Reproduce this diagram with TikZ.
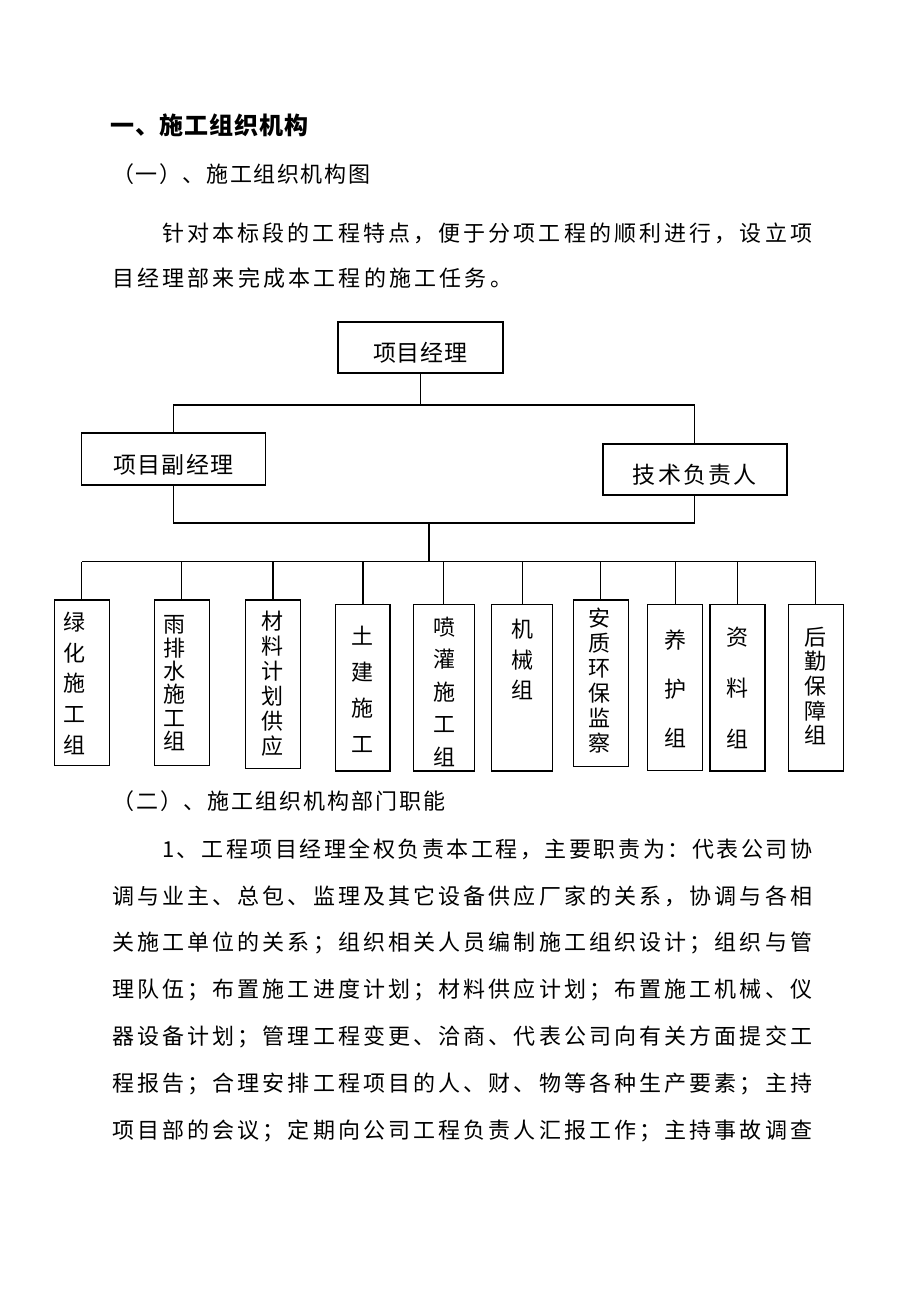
\documentclass[tikz,border=0pt]{standalone}
\usepackage{fontspec}
\setmainfont{Noto Sans CJK SC}
\usepackage{tikz}
\usetikzlibrary{positioning}
% spreads the characters of one line evenly over a given width
\makeatletter
\def\spreadrest#1{\ifx#1\relax\else\hskip 0pt plus 1fil\relax#1\expandafter\spreadrest\fi}
\def\spreadfirst#1{#1\spreadrest}
\newcommand{\spreadline}[2]{\hbox to #1pt{\spreadfirst#2\relax}}
\makeatother
\tikzset{
head/.style={anchor=west, inner sep=0pt, font=\fontsize{24}{28}\selectfont\bfseries}, % section title
txt/.style={anchor=west, inner sep=0pt, font=\fontsize{22}{26}\selectfont}, % one line of body text
post/.style={draw, line width=1.4pt, minimum width=165, minimum height=51, inner sep=0pt, font=\fontsize{23}{27}\selectfont, text height=33pt, text depth=5pt}, % leading posts
grp/.style={draw, line width=1.4pt, minimum width=55, minimum height=166.7, inner sep=0pt}, % work groups
vlab/.style={align=center, inner sep=0pt, font=\fontsize{22}{#1}\selectfont}, % upright text in a group
wire/.style={line width=1.3pt}, % connecting lines
}
\begin{document}
\begin{tikzpicture}[x=1pt, y=-1pt]
    \useasboundingbox (0,0) rectangle (920,1302);

    % text above the chart
    \node[head] (h1) at (110,125) {\spreadline{198}{一、施工组织机构}};
    \node[txt] (h2) at (112,174) {\spreadline{258}{（一）、施工组织机构图}};
    \node[txt] (p1) at (162,233) {\spreadline{650}{针对本标段的工程特点，便于分项工程的顺利进行，设立项}};
    \node[txt] (p2) at (112,278) {\spreadline{400}{目经理部来完成本工程的施工任务。}};

    % leading posts
    \node[post] (pm) at (420.5,347.5) {\spreadline{95}{项目经理}};
    \node[post, minimum width=184, minimum height=52] (vpm) at (173.5,459) {\spreadline{120}{项目副经理}};
    \node[post, minimum width=184] (tech) at (694.8,469.5) {\spreadline{124}{技术负责人}};

    \coordinate (top) at (420.5,405);
    \coordinate (mid) at (429,523);
    \coordinate (bus) at (429,561.7);

    \draw[wire] (pm.south) -- (top);
    \draw[wire] (vpm.north) |- (top) -| (tech.north);
    \draw[wire] (vpm.south) |- (mid) -| (tech.south);
    \draw[wire] (mid) -- (bus);

    % work groups
    \node[grp, minimum height=165.7] (g1) at (81.8,682.9) {};
    \node[grp, minimum height=165.7] (g2) at (181.8,682.9) {};
    \node[grp, minimum width=54.6, minimum height=168.3] (g3) at (273,684.2) {};
    \node[grp, minimum width=54.3] (g4) at (362.9,687.7) {};
    \node[grp, minimum width=61] (g5) at (443.8,687.7) {};
    \node[grp, minimum width=61] (g6) at (522.2,687.7) {};
    \node[grp] (g7) at (600.8,683.3) {};
    \node[grp, minimum height=166.4] (g8) at (675.2,687.5) {};
    \node[grp] (g9) at (737.5,687.7) {};
    \node[grp] (g10) at (815.8,687.7) {};

    \node[vlab=30.8] (t1) at (74,683.3) {绿\\化\\施\\工\\组};
    \node[vlab=23.3] (t2) at (174,683.3) {雨\\排\\水\\施\\工\\组};
    \node[vlab=25] (t3) at (272.5,684) {材\\料\\计\\划\\供\\应};
    \node[vlab=36] (t4) at (362.5,689) {土\\建\\施\\工};
    \node[vlab=32.5] (t5) at (444,691.7) {喷\\灌\\施\\工\\组};
    \node[vlab=30.8] (t6) at (522,659.4) {机\\械\\组};
    \node[vlab=25] (t7) at (599,680.8) {安\\质\\环\\保\\监\\察};
    \node[vlab=49] (t8) at (675,688.3) {养\\护\\组};
    \node[vlab=51] (t9) at (737,687.5) {资\\料\\组};
    \node[vlab=24.6] (t10) at (815,686) {后\\勤\\保\\障\\组};

    \foreach \g in {g1,g2,g3,g4,g5,g6,g7,g8,g9,g10}
        \draw[wire] (\g.north) -- (\g.north |- bus);
    \draw[wire] (g1.north |- bus) -- (g10.north |- bus);

    % text below the chart
    \node[txt] (h3) at (112,801) {\spreadline{333}{（二）、施工组织机构部门职能}};
    \node[txt] (q1) at (162,849) {\spreadline{650}{1、工程项目经理全权负责本工程，主要职责为：代表公司协}};
    \node[txt] (q2) at (112,896) {\spreadline{700}{调与业主、总包、监理及其它设备供应厂家的关系，协调与各相}};
    \node[txt] (q3) at (112,943) {\spreadline{700}{关施工单位的关系；组织相关人员编制施工组织设计；组织与管}};
    \node[txt] (q4) at (112,990) {\spreadline{700}{理队伍；布置施工进度计划；材料供应计划；布置施工机械、仪}};
    \node[txt] (q5) at (112,1037) {\spreadline{700}{器设备计划；管理工程变更、洽商、代表公司向有关方面提交工}};
    \node[txt] (q6) at (112,1084) {\spreadline{700}{程报告；合理安排工程项目的人、财、物等各种生产要素；主持}};
    \node[txt] (q7) at (112,1131) {\spreadline{700}{项目部的会议；定期向公司工程负责人汇报工作；主持事故调查}};
\end{tikzpicture}
\end{document}
